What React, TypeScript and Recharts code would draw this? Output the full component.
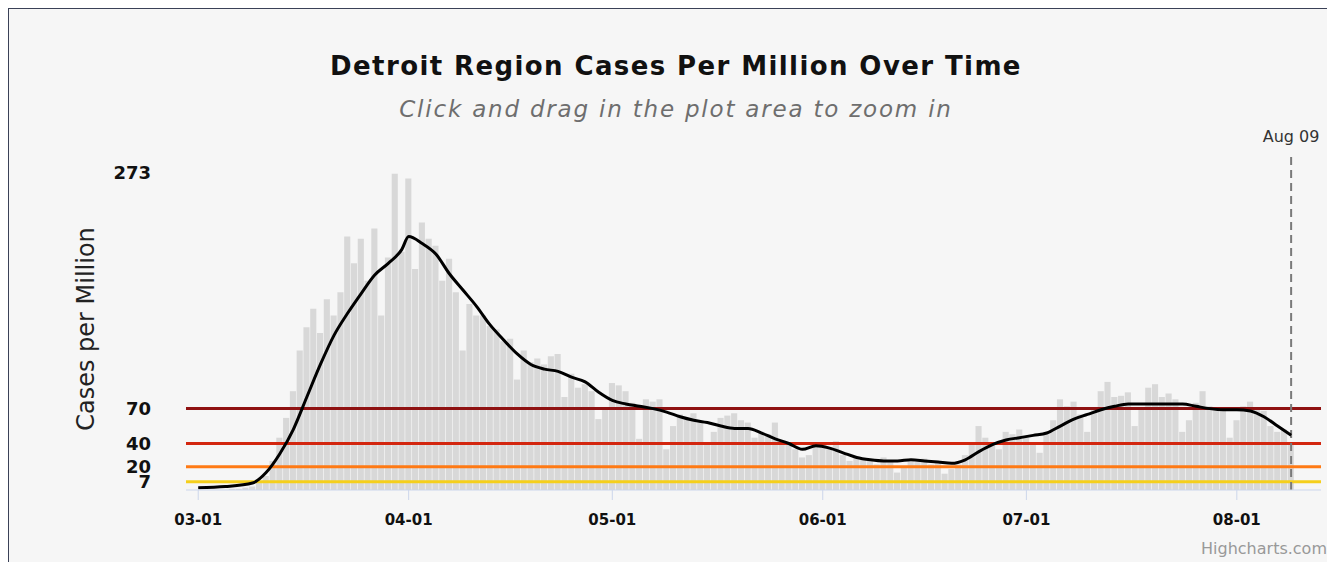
import { Bar, ComposedChart, Line, ReferenceLine, XAxis, YAxis } from "recharts";

// day 0 = March 1
const tickDays = [0, 31, 61, 92, 122, 153];
const tickLabels = ["03-01", "04-01", "05-01", "06-01", "07-01", "08-01"];

const yTicks = [7, 20, 40, 70, 273];

// threshold plot lines
const thresholds = [70, 40, 20, 7];
const thresholdColors = ["#8f1212", "#d3260f", "#ff7a14", "#f5cf1c"];

// daily cases per million, Mar 1 .. Aug 9
const dailyCases = [
    0, 0, 0, 0, 0, 1, 1,
    2, 3, 6, 12, 25, 45, 62,
    85, 120, 140, 156, 135, 164, 150,
    170, 218, 195, 216, 180, 225, 150,
    200, 272, 205, 268, 190, 230, 216,
    210, 180, 199, 170, 120, 160, 150,
    150, 141, 138, 128, 130, 95, 120,
    110, 113, 108, 115, 117, 80, 100,
    88, 91, 85, 61, 70, 92, 90,
    85, 75, 44, 78, 76, 78, 35,
    55, 65, 61, 66, 58, 40, 50,
    62, 64, 66, 60, 58, 45, 50,
    48, 58, 42, 40, 35, 28, 30,
    40, 38, 35, 42, 30, 25, 28,
    27, 25, 22, 28, 24, 15, 20,
    26, 24, 27, 22, 25, 14, 18,
    22, 30, 40, 55, 45, 38, 35,
    50, 48, 52, 45, 40, 32, 50,
    60, 78, 72, 76, 65, 50, 70,
    85, 93, 80, 81, 84, 55, 70,
    88, 91, 80, 83, 78, 50, 60,
    75, 85, 72, 70, 68, 45, 60,
    72, 76, 70, 68, 55, 50, 52, 40,
];

// 7-day average, read every two days
const avgDays = [
    0, 4, 8, 10, 12, 14, 16, 18, 20, 22, 24, 26, 28, 30, 31, 33, 35, 37, 39, 41,
    43, 45, 47, 49, 51, 53, 55, 57, 59, 61, 63, 65, 67, 69, 71, 73, 75, 77, 79, 81,
    83, 85, 87, 89, 91, 93, 95, 97, 99, 101, 103, 105, 107, 109, 111, 113, 115, 117, 119, 121,
    123, 125, 127, 129, 131, 133, 135, 137, 139, 141, 143, 145, 147, 149, 151, 153, 155, 157, 159, 161,
];
const avgValues = [
    2, 3, 6, 15, 31, 52, 80, 108, 133, 152, 169, 185, 195, 207, 218, 212, 203, 186, 172, 158,
    142, 129, 117, 108, 104, 102, 97, 93, 84, 77, 74, 72, 70, 67, 63, 60, 58, 55, 53, 53,
    49, 44, 40, 35, 38, 36, 32, 28, 26, 25, 25, 26, 25, 24, 23, 26, 33, 39, 43, 45,
    47, 49, 55, 61, 65, 69, 72, 74, 74, 74, 74, 74, 72, 70, 69, 69, 68, 63, 55, 47,
];

const todayDay = 161;
const todayLabel = "Aug 09";

const chartData = dailyCases.map((cases, day) => {
    const idx = avgDays.indexOf(day);
    return { day, cases, avg: idx >= 0 ? avgValues[idx] : null };
});

const font = "'DejaVu Sans', sans-serif";

export default function App() {
    return <div style={{
        position: "relative", width: 1325, height: 553, marginLeft: -1, marginTop: -1,
        borderTop: "2px solid #3a4157", borderLeft: "2px solid #3a4157", background: "#f6f6f6",
        fontFamily: font,
    }}>
        <div style={{ position: "absolute", left: 0, width: 1334, top: 42, textAlign: "center", fontSize: 26, fontWeight: "bold", color: "#111", letterSpacing: 1.4 }}>
            Detroit Region Cases Per Million Over Time
        </div>
        <div style={{ position: "absolute", left: 0, width: 1334, top: 87, textAlign: "center", fontSize: 23, fontStyle: "italic", color: "#6e6e6e", letterSpacing: 1.8 }}>
            Click and drag in the plot area to zoom in
        </div>
        <div style={{ position: "absolute", left: 77, top: 320, width: 0, height: 0 }}>
            <div style={{ position: "absolute", transform: "translate(-50%, -50%) rotate(-90deg)", whiteSpace: "nowrap", fontSize: 24, color: "#222" }}>
                Cases per Million
            </div>
        </div>
        <ComposedChart width={1325} height={553} data={chartData}
            margin={{ top: 145, right: 13, bottom: 32, left: 117 }}>
            <XAxis dataKey="day" type="number" domain={[-1.8, 165.4]} ticks={tickDays} allowDataOverflow
                tickFormatter={(t: number) => tickLabels[tickDays.indexOf(t)]}
                axisLine={{ stroke: "#ccd6eb" }} tickLine={{ stroke: "#ccd6eb" }} tickSize={10} tickMargin={14}
                height={40} tick={{ fill: "#111", fontSize: 15, fontWeight: "bold", fontFamily: font }} />
            <YAxis type="number" domain={[0, 289]} ticks={yTicks} interval={0} width={60}
                axisLine={false} tickLine={false} tickSize={0} tickMargin={35}
                tick={{ fill: "#111", fontSize: 18, fontWeight: "bold", fontFamily: font }} />
            <Bar dataKey="cases" fill="#d8d8d8" barSize={7} isAnimationActive={false} />
            {thresholds.map((v, i) =>
                <ReferenceLine key={v} y={v} stroke={thresholdColors[i]} strokeWidth={3} />)}
            <ReferenceLine x={todayDay} stroke="#7a7a7a" strokeWidth={2} strokeDasharray="8 5"
                label={{ value: todayLabel, position: "top", offset: 12, fill: "#333", fontSize: 16, fontFamily: font }} />
            <Line dataKey="avg" type="monotone" stroke="#000" strokeWidth={3} dot={false}
                connectNulls isAnimationActive={false} />
        </ComposedChart>
        <div style={{ position: "absolute", right: 7, top: 530, fontSize: 16, color: "#999" }}>
            Highcharts.com
        </div>
    </div>;
}
